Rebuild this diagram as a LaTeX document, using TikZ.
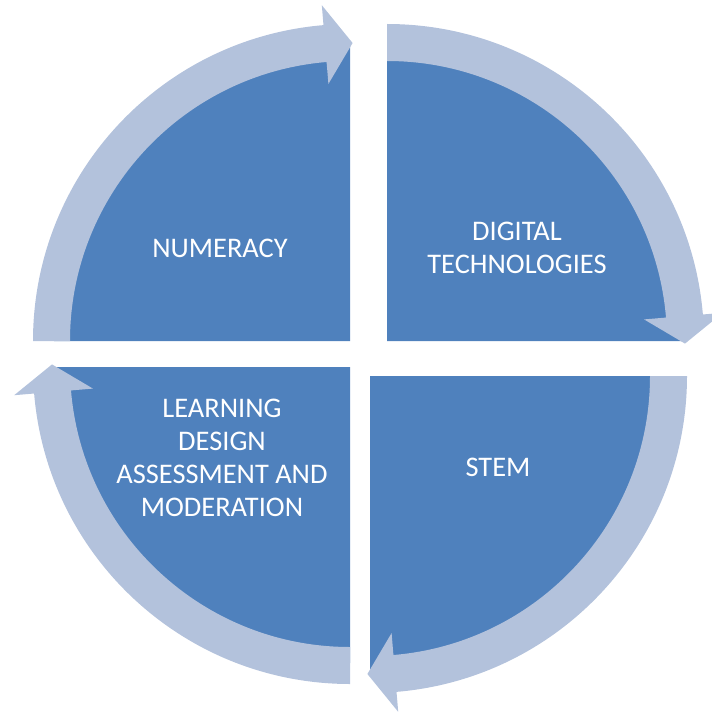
\documentclass[tikz,border=0pt]{standalone}
\usepackage{fontspec}
\setmainfont{Carlito}
\usepackage{tikz}
\usepackage{xcolor}
\definecolor{quadblue}{RGB}{79,129,189}
\definecolor{ringblue}{RGB}{179,194,220}
\tikzstyle{quadrant} = [fill=quadblue]
\tikzstyle{cyclearrow} = [fill=ringblue]
\tikzstyle{quadtext} = [text=white, align=center, font=\fontsize{21.3}{24.8}\selectfont]

\begin{document}
\begin{tikzpicture}[x=0.75pt,y=0.75pt]
\useasboundingbox (0,0) rectangle (711,-713);
% centres of the four quarters
\coordinate (ctl) at (350,-341);
\coordinate (ctr) at (387,-341);
\coordinate (cbr) at (370,-376);
\coordinate (cbl) at (350,-367);

% quarters
\fill [quadrant] (ctl) -- ++(180:296) arc[start angle=180, end angle=90, radius=296] -- cycle;
\fill [quadrant] (ctr) -- ++(90:296) arc[start angle=90, end angle=0, radius=296] -- cycle;
\fill [quadrant] (cbr) -- ++(0:296) arc[start angle=0, end angle=-90, radius=296] -- cycle;
\fill [quadrant] (cbl) -- ++(-90:296) arc[start angle=-90, end angle=-180, radius=296] -- cycle;

% arrows round the quarters
\foreach \c/\a in {ctl/180, ctr/90, cbr/0, cbl/-90}{
  \pgfmathsetmacro\b{\a-85.2}
  \pgfmathsetmacro\t{\a-90.5}
  \begin{scope}[shift={(\c)}]
    \fill [cyclearrow] (\a:317) arc[start angle=\a, end angle=\b, radius=317]
      -- (\b:337) -- (\t:298) -- (\b:258) -- (\b:280)
      arc[start angle=\b, end angle=\a, radius=280] -- cycle;
  \end{scope}
}

\node (numeracy) [quadtext] at (220,-248) {NUMERACY};
\node (digital) [quadtext] at (517,-248) {DIGITAL\\TECHNOLOGIES};
\node (stem) [quadtext] at (498,-467) {STEM};
\node (learning) [quadtext] at (222,-458) {LEARNING\\DESIGN\\ASSESSMENT AND\\MODERATION};
\end{tikzpicture}
\end{document}
